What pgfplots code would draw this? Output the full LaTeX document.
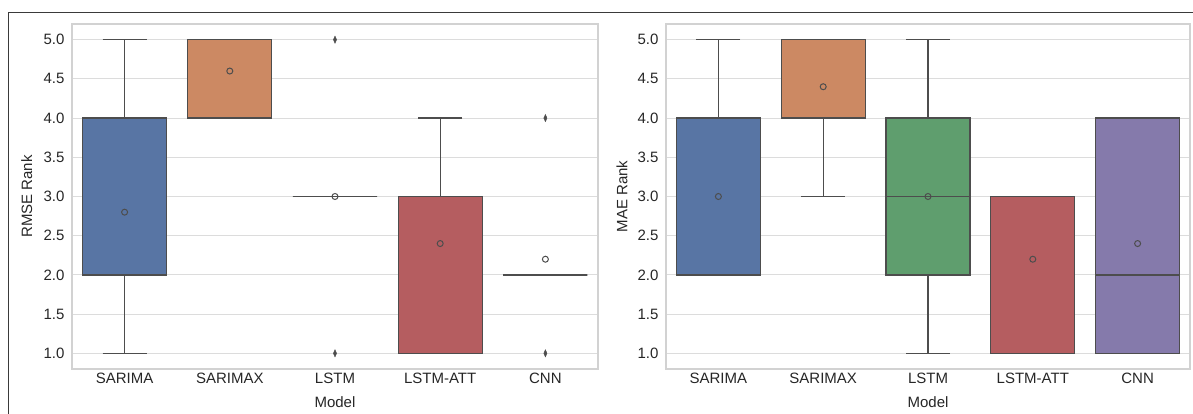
\documentclass[border=0pt]{standalone}
\usepackage{fontspec}
\setmainfont{Liberation Sans}
\usepackage{pgfplots}
\pgfplotsset{compat=1.18}
\usepgfplotslibrary{statistics}

% seaborn "deep" palette at 0.75 saturation
\definecolor{sbBlue}{HTML}{5875A4}
\definecolor{sbOrange}{HTML}{CC8963}
\definecolor{sbGreen}{HTML}{5F9E6E}
\definecolor{sbRed}{HTML}{B55D60}
\definecolor{sbPurple}{HTML}{857AAB}
\definecolor{boxedge}{HTML}{4D4D4D}
\definecolor{gridc}{HTML}{DCDCDC}
\definecolor{spine}{HTML}{D2D2D2}
\definecolor{frame}{HTML}{3A3A3A}
\definecolor{txt}{HTML}{262626}

\pgfplotsset{
  rankaxis/.style={
    scale only axis, height=345pt,
    xmin=-0.5, xmax=4.5, ymin=0.8, ymax=5.2,
    xtick={0,1,2,3,4},
    xticklabels={SARIMA,SARIMAX,LSTM,LSTM-ATT,CNN},
    ytick={1,1.5,2,2.5,3,3.5,4,4.5,5},
    yticklabel style={xshift=-4pt, /pgf/number format/fixed,
      /pgf/number format/fixed zerofill, /pgf/number format/precision=1},
    /pgf/number format/assume math mode=true,
    ymajorgrids, grid style={gridc, line width=1.1pt},
    major tick length=0pt,
    axis line style={spine, line width=1.4pt},
    tick label style={font=\fontsize{15}{18}\selectfont, text=txt},
    label style={font=\fontsize{15}{18}\selectfont, text=txt},
    xlabel={Model},
    xlabel style={at={(axis description cs:0.5,-0.096)}, anchor=center},
    boxplot/draw direction=y,
    boxplot/box extend=0.8,
    boxplot/whisker extend=0.42,
    clip=false,
  },
  bx/.style={draw=boxedge, line width=1.2pt, fill=#1},
  meanmark/.style={only marks, mark=o, mark size=3pt,
    mark options={draw=boxedge, line width=1pt}},
  flier/.style={only marks, mark=diamond*, mark size=3.6pt,
    mark options={fill=boxedge, draw=boxedge, xscale=0.6}},
}

\begin{document}
\begin{tikzpicture}
\path[use as bounding box] (0pt,0pt) rectangle (1193pt,414pt);
\draw[frame, line width=1.2pt] (8.3pt,0pt) -- (8.3pt,401.3pt) -- (1193pt,401.3pt);

% RMSE ranks
\begin{axis}[rankaxis, width=526pt, at={(72pt,45pt)}, anchor=south west,
  ylabel={RMSE Rank},
  ylabel style={at={(axis description cs:-0.086,0.5)}, anchor=center}]
\addplot[bx=sbBlue, boxplot prepared={draw position=0, lower whisker=1,
  lower quartile=2, median=2, upper quartile=4, upper whisker=5}] coordinates {};
\addplot[bx=sbOrange, boxplot prepared={draw position=1, lower whisker=4,
  lower quartile=4, median=5, upper quartile=5, upper whisker=5}] coordinates {};
\addplot[bx=sbGreen, boxplot prepared={draw position=2, lower whisker=3,
  lower quartile=3, median=3, upper quartile=3, upper whisker=3}] coordinates {};
\addplot[bx=sbRed, boxplot prepared={draw position=3, lower whisker=1,
  lower quartile=1, median=3, upper quartile=3, upper whisker=4}] coordinates {};
\addplot[bx=sbPurple, boxplot prepared={draw position=4, lower whisker=2,
  lower quartile=2, median=2, upper quartile=2, upper whisker=2}] coordinates {};
\addplot[flier] coordinates {(2,5) (2,1) (4,4) (4,1)};
\addplot[meanmark] coordinates {(0,2.8) (1,4.6) (2,3.0) (3,2.4) (4,2.2)};
\end{axis}

% MAE ranks
\begin{axis}[rankaxis, width=524pt, at={(666pt,45pt)}, anchor=south west,
  ylabel={MAE Rank},
  ylabel style={at={(axis description cs:-0.084,0.5)}, anchor=center}]
\addplot[bx=sbBlue, boxplot prepared={draw position=0, lower whisker=2,
  lower quartile=2, median=2, upper quartile=4, upper whisker=5}] coordinates {};
\addplot[bx=sbOrange, boxplot prepared={draw position=1, lower whisker=3,
  lower quartile=4, median=5, upper quartile=5, upper whisker=5}] coordinates {};
\addplot[bx=sbGreen, boxplot prepared={draw position=2, lower whisker=1,
  lower quartile=2, median=3, upper quartile=4, upper whisker=5}] coordinates {};
\addplot[bx=sbRed, boxplot prepared={draw position=3, lower whisker=1,
  lower quartile=1, median=3, upper quartile=3, upper whisker=3}] coordinates {};
\addplot[bx=sbPurple, boxplot prepared={draw position=4, lower whisker=1,
  lower quartile=1, median=2, upper quartile=4, upper whisker=4}] coordinates {};
\addplot[meanmark] coordinates {(0,3.0) (1,4.4) (2,3.0) (3,2.2) (4,2.4)};
\end{axis}
\end{tikzpicture}
\end{document}
